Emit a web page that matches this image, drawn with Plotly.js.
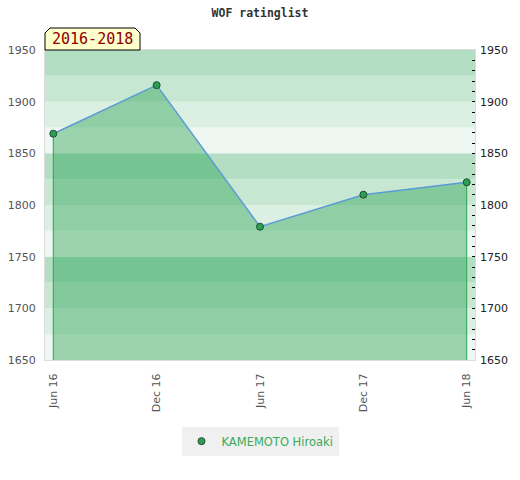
<!DOCTYPE html>
<html>
<head>
<meta charset="utf-8">
<script src="https://cdn.plot.ly/plotly-3.0.1.min.js"></script>
<style>html,body{margin:0;padding:0;background:#fff;}#chart{width:520px;height:480px;}</style>
</head>
<body>
<div id="chart"></div>
<script>
// ---- data ----
const periods = ["Jun 16", "Dec 16", "Jun 17", "Dec 17", "Jun 18"];
const ratings = [1869, 1916, 1779, 1810, 1822];
const playerName = "KAMEMOTO Hiroaki";
const chartTitle = "WOF ratinglist";
const periodLabel = "2016-2018";
const yMin = 1650, yMax = 1950;

const xs = periods.map((_, i) => i);
const last = xs.length - 1;

// background bands every 25 points, cycle of 4 shades
const bandColors = ["#eef7f1", "#dcefe3", "#c8e7d3", "#b3dec3"];
const shapes = [];
for (let v = yMin, k = 0; v < yMax; v += 25, k++) {
  shapes.push({type: 'rect', xref: 'paper', yref: 'y', x0: 0, x1: 1, y0: v, y1: v + 25,
    fillcolor: bandColors[k % 4], line: {width: 0}, layer: 'below'});
}
// label box with clipped corners
const bx = 95 / 430, by = 22 / 310, cx = 5 / 430, cy = 5 / 310;
shapes.push({type: 'path', xref: 'paper', yref: 'paper', layer: 'above',
  path: `M 0,1 L 0,${1 + by - cy} L ${cx},${1 + by} L ${bx - cx},${1 + by} L ${bx},${1 + by - cy} L ${bx},1 Z`,
  fillcolor: '#ffffcc', line: {color: '#000', width: 1}});

const markerStyle = {size: 7, color: '#2e9e56', line: {color: '#1f4d2d', width: 1}};

const traces = [
  {
    x: [xs[0], xs[0], null, xs[last], xs[last]],
    y: [yMin, ratings[0], null, yMin, ratings[last]],
    mode: 'lines', line: {color: '#2ea55a', width: 1}, showlegend: false, hoverinfo: 'skip'
  },
  {
    x: xs, y: ratings, name: playerName, type: 'scatter', mode: 'lines+markers',
    fill: 'tozeroy', fillcolor: 'rgba(30,157,74,0.4)',
    line: {color: '#5b9bd5', width: 1.5},
    marker: markerStyle, showlegend: false
  },
  {
    x: [null], y: [null], name: playerName, mode: 'markers', marker: markerStyle, showlegend: true
  },
  {
    x: xs, y: ratings, yaxis: 'y2', mode: 'markers', marker: {opacity: 0}, showlegend: false, hoverinfo: 'skip'
  }
];

const layout = {
  width: 520, height: 480,
  margin: {l: 45, r: 45, t: 50, b: 120},
  paper_bgcolor: '#fff', plot_bgcolor: '#fff',
  hovermode: false,
  title: {text: chartTitle, x: 0.5, xanchor: 'center', y: 1 - 13 / 480, yanchor: 'middle',
    font: {family: 'DejaVu Sans Mono', size: 11.5, weight: 'bold', color: '#333'}},
  xaxis: {
    range: [-0.08, last + 0.08], tickmode: 'array', tickvals: xs, ticktext: periods,
    tickangle: -90, ticks: '', ticklabelstandoff: 8, showgrid: false, zeroline: false,
    showline: true, linecolor: '#dcdcdc', linewidth: 1, mirror: true,
    tickfont: {family: 'DejaVu Sans', size: 11, color: '#555'}
  },
  yaxis: {
    range: [yMin, yMax], dtick: 50, ticks: '', showgrid: false, zeroline: false,
    showline: true, linecolor: '#dcdcdc', linewidth: 1, mirror: true, ticklabelstandoff: 6,
    tickfont: {family: 'DejaVu Sans', size: 11, color: '#555'}
  },
  yaxis2: {
    overlaying: 'y', side: 'right', range: [yMin, yMax], dtick: 50,
    ticks: 'inside', ticklen: 3, tickcolor: '#000', tickwidth: 1,
    minor: {dtick: 10, ticks: 'inside', ticklen: 3, tickcolor: '#000', tickwidth: 1},
    showgrid: false, zeroline: false, showline: false, ticklabelstandoff: 4,
    tickfont: {family: 'DejaVu Sans', size: 11, color: '#222'}
  },
  legend: {orientation: 'h', x: 0.5, xanchor: 'center', y: -0.215, yanchor: 'top',
    bgcolor: '#f0f0f0', font: {family: 'DejaVu Sans', size: 11.5, color: '#3aaa5a'}},
  shapes: shapes,
  annotations: [{
    xref: 'paper', yref: 'paper', x: bx / 2, y: 1 + by / 2, xanchor: 'center', yanchor: 'middle',
    text: periodLabel, showarrow: false,
    font: {family: 'DejaVu Sans Mono', size: 15, color: '#8b0000'}
  }]
};

Plotly.newPlot('chart', traces, layout, {displayModeBar: false, staticPlot: true});
</script>
</body>
</html>
